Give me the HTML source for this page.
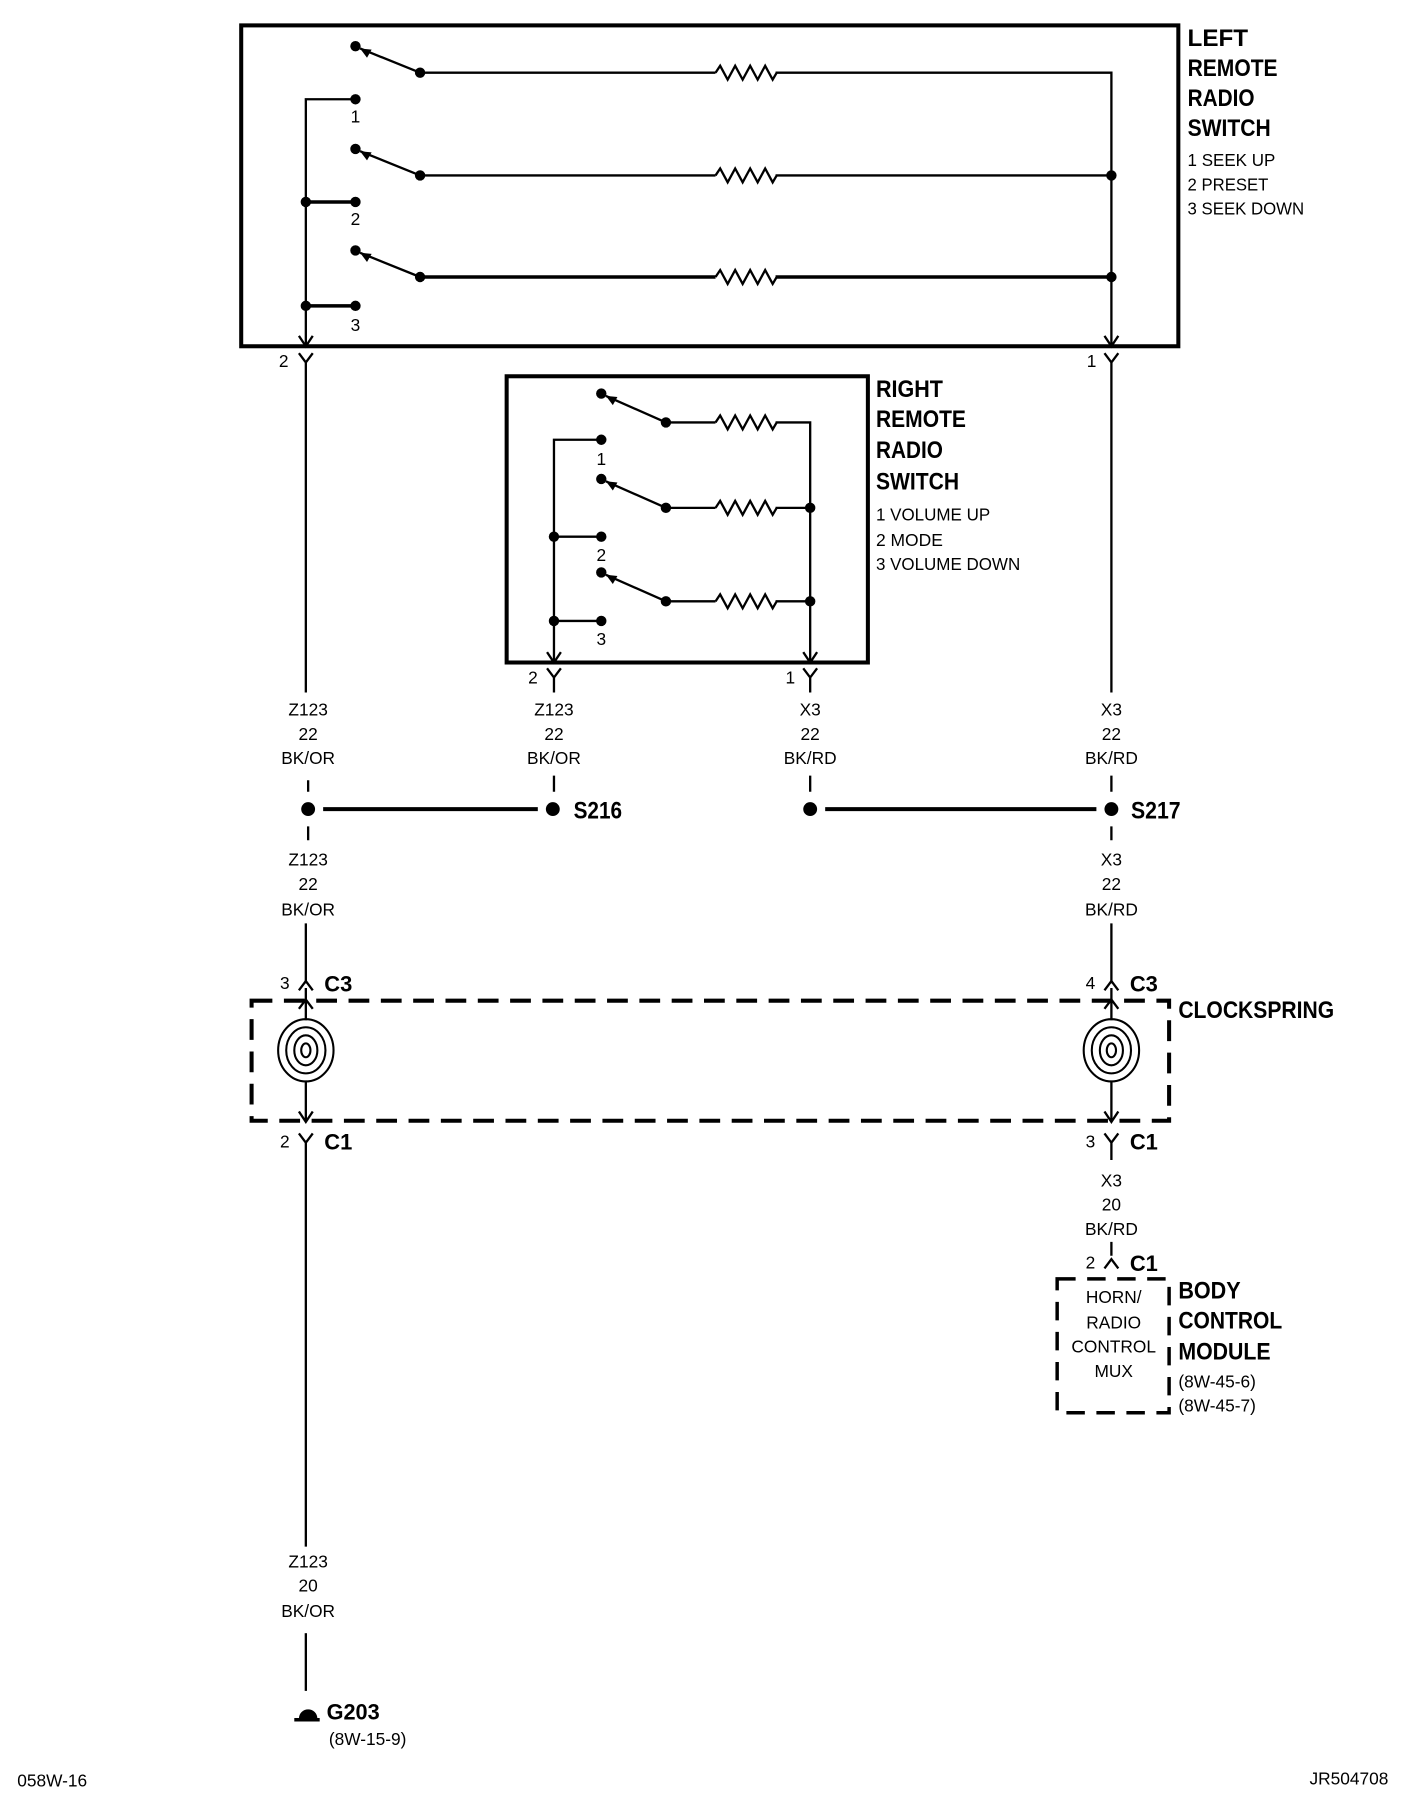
<!DOCTYPE html>
<html><head><meta charset="utf-8"><style>
html,body{margin:0;padding:0;background:#fff;}
svg{display:block;}
text{font-family:"Liberation Sans",sans-serif;fill:#000;}
.b{font-weight:bold;font-size:21px;}
.s{font-size:15px;}
</style></head><body>
<svg width="1408" height="1804" viewBox="0 0 1220 1563" preserveAspectRatio="none" xmlns="http://www.w3.org/2000/svg">
<defs>
<path id="r" d="M0 0 l4 -6 l6.5 12 l6.5 -12 l6.5 12 l6.5 -12 l6.5 12 l6.5 -12 l6.5 12 l3.5 -6" />
</defs>
<g stroke="#000" fill="none" stroke-width="2">
<rect x="209" y="22" width="812" height="278" stroke-width="3.5"/>
<path d="M364 63 H620 M672 63 H963 V300"/>
<use href="#r" x="620" y="63"/>
<path d="M364 152 H620 M672 152 H963"/>
<use href="#r" x="620" y="152"/>
<path d="M364 240 H620 M672 240 H963" stroke-width="3"/>
<use href="#r" x="620" y="240"/>
<path d="M364 63 L312 42 M364 152 L312 131 M364 240 L312 219"/>
<path d="M308 86 H265 V300"/>
<path d="M265 175 H308 M265 265 H308" stroke-width="3"/>
<path d="M259 291 L265 300 L271 291 M957 291 L963 300 L969 291"/>
<path d="M259 306 L265 314 L271 306 M265 314 V600"/>
<path d="M957 306 L963 314 L969 306 M963 314 V600"/>
<rect x="439" y="326" width="313" height="248" stroke-width="3.5"/>
<path d="M577 366 H620 M672 366 H702 V574"/>
<use href="#r" x="620" y="366"/>
<path d="M577 440 H620 M672 440 H702"/>
<use href="#r" x="620" y="440"/>
<path d="M577 521 H620 M672 521 H702"/>
<use href="#r" x="620" y="521"/>
<path d="M577 366 L525 343 M577 440 L525 417 M577 521 L525 498"/>
<path d="M521 381 H480 V574 M480 465 H521 M480 538 H521"/>
<path d="M474 565 L480 574 L486 565 M696 565 L702 574 L708 565"/>
<path d="M474 579 L480 587 L486 579 M480 587 V600"/>
<path d="M696 579 L702 587 L708 579 M702 587 V600"/>
<path d="M267 676 V686 M480 672 V686 M702 672 V686 M963 672 V686"/>
<path d="M267 716 V728 M963 716 V728"/>
<path d="M280 701 H466 M715 701 H950" stroke-width="3.5"/>
<path d="M265 800 V852 M963 800 V852"/>
<path d="M259 858 L265 850 L271 858 M957 858 L963 850 L969 858"/>
<rect x="218" y="867" width="795" height="104" stroke-width="3.5" stroke-dasharray="18 10"/>
<path d="M265 856 V884 M265 936 V972 M259 874 L265 866 L271 874 M259 963 L265 972 L271 963"/>
<path d="M963 856 V884 M963 936 V972 M957 874 L963 866 L969 874 M957 963 L963 972 L969 963"/>
<g stroke-width="1.8">
<ellipse cx="265" cy="910" rx="24" ry="27"/><ellipse cx="265" cy="910" rx="17" ry="20"/><ellipse cx="265" cy="910" rx="10" ry="13"/><ellipse cx="265" cy="910" rx="4" ry="6"/>
<ellipse cx="963" cy="910" rx="24" ry="27"/><ellipse cx="963" cy="910" rx="17" ry="20"/><ellipse cx="963" cy="910" rx="10" ry="13"/><ellipse cx="963" cy="910" rx="4" ry="6"/>
</g>
<path d="M259 982 L265 990 L271 982 M265 990 V1340"/>
<path d="M957 982 L963 990 L969 982 M963 990 V1005"/>
<path d="M265 1415 V1465"/>
<path d="M963 1076 V1088 M957 1099 L963 1091 L969 1099"/>
<rect x="916" y="1108" width="97" height="116" stroke-width="3" stroke-dasharray="16 10"/>
<path d="M255 1490 H277" stroke-width="3"/>
</g>
<g fill="#000">
<path d="M312 42 l10 1 l-4 7 z M312 131 l10 1 l-4 7 z M312 219 l10 1 l-4 7 z M525 343 l10 1 l-4 7 z M525 417 l10 1 l-4 7 z M525 498 l10 1 l-4 7 z"/>
<circle cx="308" cy="40" r="4.5"/><circle cx="364" cy="63" r="4.5"/><circle cx="308" cy="86" r="4.5"/>
<circle cx="308" cy="129" r="4.5"/><circle cx="364" cy="152" r="4.5"/><circle cx="963" cy="152" r="4.5"/>
<circle cx="308" cy="175" r="4.5"/><circle cx="265" cy="175" r="4.5"/>
<circle cx="308" cy="217" r="4.5"/><circle cx="364" cy="240" r="4.5"/><circle cx="963" cy="240" r="4.5"/>
<circle cx="308" cy="265" r="4.5"/><circle cx="265" cy="265" r="4.5"/>
<circle cx="521" cy="341" r="4.5"/><circle cx="577" cy="366" r="4.5"/><circle cx="521" cy="381" r="4.5"/>
<circle cx="521" cy="415" r="4.5"/><circle cx="577" cy="440" r="4.5"/><circle cx="702" cy="440" r="4.5"/>
<circle cx="521" cy="465" r="4.5"/><circle cx="480" cy="465" r="4.5"/>
<circle cx="521" cy="496" r="4.5"/><circle cx="577" cy="521" r="4.5"/><circle cx="702" cy="521" r="4.5"/>
<circle cx="521" cy="538" r="4.5"/><circle cx="480" cy="538" r="4.5"/>
<circle cx="267" cy="701" r="6"/><circle cx="479" cy="701" r="6"/><circle cx="702" cy="701" r="6"/><circle cx="963" cy="701" r="6"/>
<path d="M259 1489 A8 8 0 0 1 275 1489 Z"/>
</g>
<g class="b">
<text x="1029" y="40">LEFT</text>
<text x="1029" y="66" textLength="78" lengthAdjust="spacingAndGlyphs">REMOTE</text>
<text x="1029" y="92" textLength="58" lengthAdjust="spacingAndGlyphs">RADIO</text>
<text x="1029" y="118" textLength="72" lengthAdjust="spacingAndGlyphs">SWITCH</text>
<text x="759" y="344" textLength="58" lengthAdjust="spacingAndGlyphs">RIGHT</text>
<text x="759" y="370" textLength="78" lengthAdjust="spacingAndGlyphs">REMOTE</text>
<text x="759" y="397" textLength="58" lengthAdjust="spacingAndGlyphs">RADIO</text>
<text x="759" y="424" textLength="72" lengthAdjust="spacingAndGlyphs">SWITCH</text>
<text x="497" y="709" textLength="42" lengthAdjust="spacingAndGlyphs">S216</text>
<text x="980" y="709" textLength="43" lengthAdjust="spacingAndGlyphs">S217</text>
<text x="1021" y="882" textLength="135" lengthAdjust="spacingAndGlyphs">CLOCKSPRING</text>
<text x="1021" y="1125" textLength="54" lengthAdjust="spacingAndGlyphs">BODY</text>
<text x="1021" y="1151" textLength="90" lengthAdjust="spacingAndGlyphs">CONTROL</text>
<text x="1021" y="1178" textLength="80" lengthAdjust="spacingAndGlyphs">MODULE</text>
<text x="283" y="1490" font-size="19" textLength="46" lengthAdjust="spacingAndGlyphs">G203</text>
<text x="281" y="859" font-size="19">C3</text>
<text x="979" y="859" font-size="19">C3</text>
<text x="281" y="996" font-size="19">C1</text>
<text x="979" y="996" font-size="19">C1</text>
<text x="979" y="1101" font-size="19">C1</text>
</g>
<g class="s">
<text x="1029" y="144" textLength="76" lengthAdjust="spacingAndGlyphs">1 SEEK UP</text>
<text x="1029" y="165" textLength="70" lengthAdjust="spacingAndGlyphs">2 PRESET</text>
<text x="1029" y="186" textLength="101" lengthAdjust="spacingAndGlyphs">3 SEEK DOWN</text>
<text x="759" y="451" textLength="99" lengthAdjust="spacingAndGlyphs">1 VOLUME UP</text>
<text x="759" y="473" textLength="58" lengthAdjust="spacingAndGlyphs">2 MODE</text>
<text x="759" y="494" textLength="125" lengthAdjust="spacingAndGlyphs">3 VOLUME DOWN</text>
<text x="308" y="106" text-anchor="middle">1</text>
<text x="308" y="195" text-anchor="middle">2</text>
<text x="308" y="287" text-anchor="middle">3</text>
<text x="521" y="403" text-anchor="middle">1</text>
<text x="521" y="486" text-anchor="middle">2</text>
<text x="521" y="559" text-anchor="middle">3</text>
<text x="250" y="318" text-anchor="end">2</text>
<text x="950" y="318" text-anchor="end">1</text>
<text x="466" y="592" text-anchor="end">2</text>
<text x="689" y="592" text-anchor="end">1</text>
<text x="251" y="857" text-anchor="end">3</text>
<text x="949" y="857" text-anchor="end">4</text>
<text x="251" y="994" text-anchor="end">2</text>
<text x="949" y="994" text-anchor="end">3</text>
<text x="949" y="1099" text-anchor="end">2</text>
</g>
<g class="s" text-anchor="middle">
<text x="267" y="620">Z123</text><text x="267" y="641">22</text><text x="267" y="662">BK/OR</text>
<text x="480" y="620">Z123</text><text x="480" y="641">22</text><text x="480" y="662">BK/OR</text>
<text x="702" y="620">X3</text><text x="702" y="641">22</text><text x="702" y="662">BK/RD</text>
<text x="963" y="620">X3</text><text x="963" y="641">22</text><text x="963" y="662">BK/RD</text>
<text x="267" y="750">Z123</text><text x="267" y="771">22</text><text x="267" y="793">BK/OR</text>
<text x="963" y="750">X3</text><text x="963" y="771">22</text><text x="963" y="793">BK/RD</text>
<text x="963" y="1028">X3</text><text x="963" y="1049">20</text><text x="963" y="1070">BK/RD</text>
<text x="267" y="1358">Z123</text><text x="267" y="1379">20</text><text x="267" y="1401">BK/OR</text>
<text x="965" y="1129">HORN/</text><text x="965" y="1151">RADIO</text><text x="965" y="1172">CONTROL</text><text x="965" y="1193">MUX</text>
</g>
<g class="s">
<text x="1021" y="1202">(8W-45-6)</text>
<text x="1021" y="1223">(8W-45-7)</text>
<text x="285" y="1512">(8W-15-9)</text>
<text x="15" y="1548">058W-16</text>
<text x="1203" y="1546" text-anchor="end">JR504708</text>
</g>
</svg>
</body></html>
